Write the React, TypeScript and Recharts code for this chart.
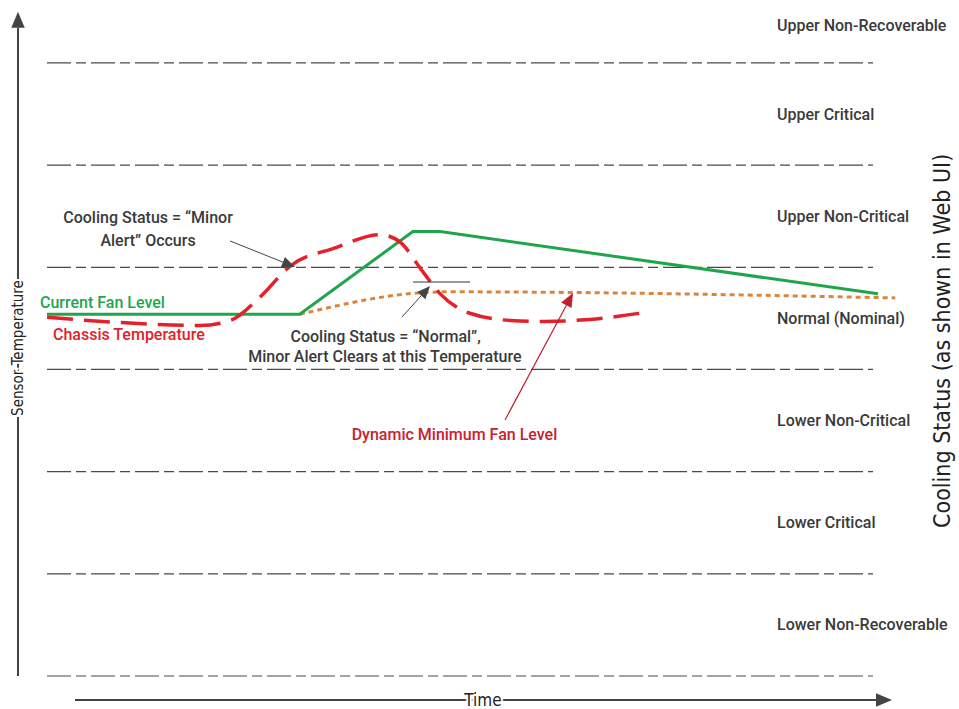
import { ComposedChart, Line, XAxis, YAxis, ReferenceLine, ReferenceDot } from 'recharts';

// time runs 0..100 across the threshold lines, levels 0..6 are the threshold boundaries
const fanTime = [0, 30.6, 44.3, 47.6, 100.6];
const fanLevel = [3.54, 3.54, 4.35, 4.35, 3.74];

const chassisTime = [0, 8.8, 18.5, 22.2, 25.8, 29.4, 34.9, 40.3, 42.7, 45.2, 47.6, 51.2, 56.1, 60.3, 65.7, 71.8];
const chassisTemp = [3.51, 3.46, 3.43, 3.48, 3.71, 4.01, 4.19, 4.32, 4.25, 3.99, 3.74, 3.55, 3.48, 3.47, 3.49, 3.55];

const minFanTime = [30.6, 45.2, 48.2, 102.7];
const minFanLevel = [3.54, 3.75, 3.76, 3.7];

const thresholds = [0, 1, 2, 3, 4, 5, 6];
const statusLabels = [
  'Lower Non-Recoverable',
  'Lower Critical',
  'Lower Non-Critical',
  'Normal (Nominal)',
  'Upper Non-Critical',
  'Upper Critical',
  'Upper Non-Recoverable',
];
const statusLevels = [0.5, 1.5, 2.5, 3.5, 4.5, 5.5, 6.37];

const fanData = fanTime.map((t, i) => ({ t, v: fanLevel[i] }));
const chassisData = chassisTime.map((t, i) => ({ t, v: chassisTemp[i] }));
const minFanData = minFanTime.map((t, i) => ({ t, v: minFanLevel[i] }));

const GREEN = '#1fa64c';
const RED = '#e4202a';
const ORANGE = '#d9863a';
const DARK = '#3a3a3a';
const FONT = 'Roboto, "Liberation Sans", sans-serif';
const NARROW = '"Liberation Sans Narrow", "DejaVu Sans Condensed", Roboto, sans-serif';

function arrow(color: string, width: number, head: number) {
  return (p: any) => {
    const { x1, y1, x2, y2 } = p;
    const a = Math.atan2(y2 - y1, x2 - x1);
    const hw = head * 0.42;
    const bx = x2 - head * Math.cos(a);
    const by = y2 - head * Math.sin(a);
    const pts = [
      `${x2},${y2}`,
      `${bx + hw * Math.sin(a)},${by - hw * Math.cos(a)}`,
      `${bx - hw * Math.sin(a)},${by + hw * Math.cos(a)}`,
    ].join(' ');
    return (
      <g>
        <line x1={x1} y1={y1} x2={bx} y2={by} stroke={color} strokeWidth={width} />
        <polygon points={pts} fill={color} />
      </g>
    );
  };
}

function label(text: string, opts: any) {
  return (p: any) => (
    <text
      x={p.cx}
      y={p.cy}
      textAnchor={opts.anchor || 'start'}
      dominantBaseline="central"
      fontSize={opts.size || 16}
      fontWeight={opts.weight || 500}
      fontFamily={opts.font || FONT}
      fill={opts.color || DARK}
      stroke={opts.halo ? '#fff' : 'none'}
      strokeWidth={opts.halo ? 4 : 0}
      paintOrder="stroke"
      transform={opts.rotate ? `rotate(-90 ${p.cx} ${p.cy})` : undefined}
    >
      {text}
    </text>
  );
}

export default function App() {
  return (
    <div style={{ position: 'absolute', left: 0, top: 0, background: '#fff' }}>
      <ComposedChart width={959} height={709} margin={{ top: 0, right: 0, bottom: 0, left: 0 }}>
        <XAxis type="number" dataKey="t" domain={[-5.69, 110.41]} allowDataOverflow hide />
        <YAxis type="number" dataKey="v" domain={[-0.323, 6.616]} allowDataOverflow hide />

        {thresholds.map((v) => (
          <ReferenceLine
            key={v}
            segment={[{ x: 0, y: v }, { x: 100, y: v }]}
            stroke="#4a4a4a"
            strokeWidth={1.2}
            strokeDasharray="24 5 10 5"
          />
        ))}

        {/* axes drawn as arrows */}
        <ReferenceLine segment={[{ x: -3.51, y: 0 }, { x: -3.51, y: 6.5 }]} shape={arrow('#444', 2, 16)} />
        <ReferenceLine segment={[{ x: 3.39, y: -0.235 }, { x: 102.3, y: -0.235 }]} shape={arrow('#444', 2, 16)} />

        <Line data={minFanData} dataKey="v" type="monotone" stroke={ORANGE} strokeWidth={3} strokeDasharray="5 4" dot={false} activeDot={false} isAnimationActive={false} />
        <Line data={fanData} dataKey="v" type="linear" stroke={GREEN} strokeWidth={3} dot={false} activeDot={false} isAnimationActive={false} />
        <Line data={chassisData} dataKey="v" type="monotone" stroke={RED} strokeWidth={3.5} strokeDasharray="26 11" dot={false} activeDot={false} isAnimationActive={false} />

        {/* annotation arrows */}
        <ReferenceLine segment={[{ x: 22.15, y: 4.258 }, { x: 30.02, y: 4.003 }]} shape={arrow('#444', 1, 13)} />
        <ReferenceLine segment={[{ x: 42.98, y: 3.514 }, { x: 46.37, y: 3.817 }]} shape={arrow('#444', 1, 13)} />
        <ReferenceLine segment={[{ x: 44.31, y: 3.856 }, { x: 51.21, y: 3.856 }]} stroke="#333" strokeWidth={1} />
        <ReferenceLine segment={[{ x: 55.45, y: 2.506 }, { x: 63.68, y: 3.749 }]} shape={arrow('#c41e2e', 1.2, 14)} />

        {statusLabels.map((s, i) => (
          <ReferenceDot key={s} x={88.38} y={statusLevels[i]} r={0} shape={label(s, {})} />
        ))}

        <ReferenceDot x={12.23} y={4.483} r={0} shape={label('Cooling Status = \u201cMinor', { anchor: 'middle' })} />
        <ReferenceDot x={12.23} y={4.267} r={0} shape={label('Alert\u201d Occurs', { anchor: 'middle' })} />
        <ReferenceDot x={-0.85} y={3.651} r={0} shape={label('Current Fan Level', { color: GREEN })} />
        <ReferenceDot x={0.73} y={3.347} r={0} shape={label('Chassis Temperature', { color: RED })} />
        <ReferenceDot x={41.0} y={3.318} r={0} shape={label('Cooling Status = \u201cNormal\u201d,', { anchor: 'middle' })} />
        <ReferenceDot x={40.9} y={3.128} r={0} shape={label('Minor Alert Clears at this Temperature', { anchor: 'middle' })} />
        <ReferenceDot x={49.33} y={2.359} r={0} shape={label('Dynamic Minimum Fan Level', { anchor: 'middle', color: '#c8202e' })} />

        <ReferenceDot x={52.78} y={-0.235} r={0} shape={label('Time', { anchor: 'middle', size: 17, weight: 400, font: NARROW, halo: true, color: '#222' })} />
        <ReferenceDot x={-3.51} y={3.21} r={0} shape={label('Sensor Temperature', { anchor: 'middle', size: 15, weight: 400, font: NARROW, halo: true, rotate: true, color: '#222' })} />
        <ReferenceDot x={108.35} y={3.28} r={0} shape={label('Cooling Status (as shown in Web UI)', { anchor: 'middle', size: 23, weight: 400, font: NARROW, rotate: true, color: '#222' })} />
      </ComposedChart>
    </div>
  );
}
